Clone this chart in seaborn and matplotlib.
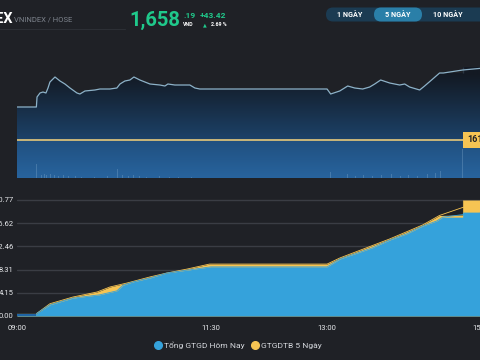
import numpy as np
import matplotlib
matplotlib.use('Agg')
import matplotlib.pyplot as plt
import seaborn as sns
from matplotlib.lines import Line2D
from matplotlib.patches import FancyBboxPatch

# --- Data (minutes after 09:00) ---
REF_PRICE = 1614.77
LAST_PRICE = '1,658'
LAST_DEC = '.19'
CHANGE = '+43.42'
CHANGE_PCT = '2.69 %'

price_min = [0, 15, 15.5, 17.8, 20.1, 22.4, 24, 25.5, 29.4, 33.3, 37.1, 41, 46.4, 48.7,
             52.6, 60.3, 64.2, 71.9, 77.3, 79.7, 83.5, 87.4, 90.5, 95.1, 99, 102.9, 110.6,
             114.5, 116.8, 122.2, 130, 133.8, 137.7, 141.5, 150, 240, 242.8, 249.8, 256,
             261.4, 267.6, 273, 276.9, 281.5, 288.5, 296.2, 300.1, 303.9, 311.7, 315.5,
             320.9, 327.1, 330, 345, 345, 370]
price_val = [1634.40, 1634.40, 1640.35, 1642.73, 1643.32, 1642.73, 1645.70, 1649.27,
             1652.24, 1649.86, 1648.08, 1645.70, 1642.73, 1642.13, 1643.92, 1644.51,
             1645.10, 1645.10, 1645.70, 1648.08, 1649.86, 1650.46, 1652.24, 1650.46,
             1649.27, 1648.08, 1647.48, 1646.89, 1648.08, 1647.48, 1647.48, 1647.48,
             1645.70, 1645.10, 1645.10, 1645.10, 1642.13, 1643.92, 1646.89, 1645.70,
             1645.10, 1646.29, 1648.08, 1650.46, 1648.67, 1647.48, 1648.08, 1646.29,
             1644.51, 1646.89, 1650.46, 1654.62, 1654.62, 1654.62, 1658.19, 1658.19]

vol_min = [15, 17, 19, 21, 23, 26, 29, 32, 36, 40, 45, 50, 60, 70, 78, 82, 86, 90, 95,
           100, 110, 118, 125, 135, 243, 250, 256, 262, 268, 275, 282, 290, 297, 303,
           310, 318, 324, 328, 345]
vol_val = [14, 5, 3, 4, 3, 4, 3, 2, 3, 2, 2, 1, 1, 2, 9, 3, 2, 3, 2, 1, 2, 1, 1, 1,
           6, 3, 4, 2, 3, 2, 3, 4, 2, 3, 2, 4, 5, 7, 29]

today_min = [0, 15, 15.5, 25.5, 43.3, 64.2, 77.3, 82, 89.7, 102.9, 116, 131.5, 150, 240,
             250, 275, 288.5, 301.6, 314, 324.8, 329.5, 345, 345, 370]
today_val = [0.3, 0.3, 0.5, 2.0, 3.2, 3.8, 4.5, 5.5, 6.1, 6.8, 7.7, 8.2, 8.8, 8.8,
             10.2, 12.2, 13.6, 14.7, 16.1, 17.0, 17.7, 17.7, 18.6, 18.6]

avg5_min = [0, 15, 15.5, 25.5, 43.3, 62, 72, 85, 103, 116, 131.5, 149, 240, 250, 288.5,
            314, 327, 345, 345, 370]
avg5_val = [0.3, 0.3, 0.5, 2.2, 3.4, 4.3, 5.2, 5.9, 7.0, 7.7, 8.4, 9.3, 9.3, 10.4, 13.8,
            16.3, 18.0, 18.1, 20.77, 20.77]

y_ticks = [0.00, 4.15, 8.31, 12.46, 16.62, 20.77]
x_ticks = [0, 150, 240, 360]
x_labels = ['09:00', '11:30', '13:00', '15:00']
legend_labels = ['Tổng GTGD Hôm Nay', 'GTGDTB 5 Ngày']

# --- Style ---
BG = '#1f2126'
BLUE = '#35a2db'
YELLOW = '#f6c453'
GREEN = '#1fc98b'

sns.set_theme(style='dark')
plt.rcParams['font.family'] = ['Roboto', 'DejaVu Sans']
plt.rcParams['figure.facecolor'] = BG
plt.rcParams['axes.facecolor'] = 'none'

W, H = 480, 360


def px(x0, y0, x1, y1):
    return [x0 / W, 1 - y1 / H, (x1 - x0) / W, (y1 - y0) / H]


fig = plt.figure(figsize=(4.8, 3.6), dpi=100)

# --- Header ---
fig.text(13 / W, 1 - 19 / H, 'VNINDEX', color='white', fontsize=10.5, fontweight='bold',
         ha='right', va='center')
fig.text(14 / W, 1 - 20 / H, 'VNINDEX / HOSE', color='#7d838c', fontsize=5.5,
         ha='left', va='center')
fig.add_artist(Line2D([0, 125 / W], [1 - 29 / H] * 2, color='#2c2f35', lw=0.8))
fig.text(129 / W, 1 - 20 / H, LAST_PRICE, color=GREEN, fontsize=14.5, fontweight='bold',
         ha='left', va='center')
fig.text(183 / W, 1 - 15 / H, LAST_DEC, color=GREEN, fontsize=6, fontweight='bold',
         ha='left', va='center')
fig.text(183 / W, 1 - 25 / H, 'VND', color='white', fontsize=3.8, fontweight='bold',
         ha='left', va='center')
fig.text(200 / W, 1 - 15 / H, CHANGE, color=GREEN, fontsize=6, fontweight='bold',
         ha='left', va='center')
fig.text(205 / W, 1 - 25 / H, '▲', color=GREEN, fontsize=3.5, ha='center', va='center',
         family=['DejaVu Sans'])
fig.text(211 / W, 1 - 25 / H, CHANGE_PCT, color='white', fontsize=3.8, fontweight='bold',
         ha='left', va='center')

# buttons
bax = fig.add_axes(px(326, 7, 500, 22))
bax.set_xlim(326, 500)
bax.set_ylim(22, 7)
bax.axis('off')
bax.add_patch(FancyBboxPatch((326, 7.5), 170, 14, boxstyle='round,pad=0,rounding_size=7',
                             fc='#1b3b52', ec='none'))
bax.add_patch(FancyBboxPatch((374, 7.5), 48, 14, boxstyle='round,pad=0,rounding_size=7',
                             fc='#2a7fa8', ec='none'))
for cx, lab in [(350, '1 NGÀY'), (398, '5 NGÀY'), (448, '10 NGÀY')]:
    bax.text(cx, 14.8, lab, color='white', fontsize=5.2, fontweight='bold',
             ha='center', va='center')

# --- Price chart ---
top_px, bot_px = 40, 178
px_per_pt = 1 / 0.5948
ymax = REF_PRICE + (140 - top_px) / px_per_pt
ymin = REF_PRICE - (bot_px - 140) / px_per_pt
ax1 = fig.add_axes(px(17, top_px, 495, bot_px))
ax1.set_xlim(0, 370)
ax1.set_ylim(ymin, ymax)
ax1.axis('off')

# vertical gradient clipped to the area under the line
rows = np.arange(top_px, bot_px)
stops_y = [40, 75, 139.5, 140.5, 178]
r = np.interp(rows, stops_y, [19, 19, 28, 32, 40])
g = np.interp(rows, stops_y, [25, 26, 66, 80, 100])
b = np.interp(rows, stops_y, [34, 36, 105, 128, 158])
grad = np.stack([r, g, b], axis=1)[:, None, :] / 255.0
grad = np.repeat(grad, 2, axis=1)
poly = ax1.fill_between(price_min, price_val, ymin, color='none', lw=0)
img = ax1.imshow(grad, extent=[0, 370, ymin, ymax], aspect='auto', zorder=1,
                 interpolation='bilinear')
img.set_clip_path(poly.get_paths()[0], transform=ax1.transData)

# volume bars on an overlay axis
axv = fig.add_axes(px(17, top_px, 495, bot_px))
axv.set_xlim(0, 370)
axv.set_ylim(0, bot_px - top_px)
axv.axis('off')
axv.bar(vol_min, vol_val, width=0.7, color='#8fb5d5', alpha=0.3, lw=0)

ax1.axhline(REF_PRICE, color='#c9b67a', lw=1.4, zorder=3)
sns.lineplot(x=price_min, y=price_val, ax=ax1, color='#8db2c8', lw=0.9, zorder=4)
ax1.text(348.3, REF_PRICE, '1614.77', color='#1f2126', fontsize=6.5, fontweight='bold',
         ha='left', va='center', zorder=6,
         bbox=dict(boxstyle='square,pad=0.4', fc=YELLOW, ec='none'))

# --- Cumulative value chart ---
v_per_px = 20.77 / 116
ax2 = fig.add_axes(px(17, 190, 495, 316))
ax2.set_xlim(0, 370)
ax2.set_ylim(0, (316 - 190) * v_per_px)
for s in ax2.spines.values():
    s.set_visible(False)
ax2.grid(False)
for yt in y_ticks[1:]:
    ax2.axhline(yt, color='#3a3d44', lw=1, zorder=0)

ax2.fill_between(avg5_min, avg5_val, 0, color=YELLOW, lw=0, zorder=2)
sns.lineplot(x=avg5_min, y=avg5_val, ax=ax2, color=YELLOW, lw=0.6, zorder=2)
ax2.fill_between(today_min, today_val, 0, color=BLUE, lw=0, zorder=3)
sns.lineplot(x=today_min, y=today_val, ax=ax2, color=BLUE, lw=0.6, zorder=3)
ax2.fill_between([0, 15], [0.3, 0.3], 0, color='#1f65a5', lw=0, zorder=4)

ax2.set_yticks(y_ticks)
ax2.set_yticklabels([f'{v:.2f}' for v in y_ticks])
ax2.set_xticks(x_ticks)
ax2.set_xticklabels(x_labels)
ax2.tick_params(axis='y', length=0, pad=2.5, labelsize=5.5, colors='#e6e8eb')
ax2.tick_params(axis='x', length=0, pad=6.5, labelsize=5.5, colors='#e6e8eb')
ax2.set_xlabel('')
ax2.set_ylabel('')

handles = [Line2D([], [], marker='o', ls='', markersize=5.5, color=c)
           for c in (BLUE, YELLOW)]
fig.legend(handles, legend_labels, loc='center', bbox_to_anchor=(238 / W, 1 - 345 / H),
           ncol=2, frameon=False, fontsize=6.0, labelcolor='#d5d8dd', handletextpad=0.2,
           columnspacing=0.8, handlelength=1.0)

fig.savefig('out.png', dpi=100, facecolor=BG)
